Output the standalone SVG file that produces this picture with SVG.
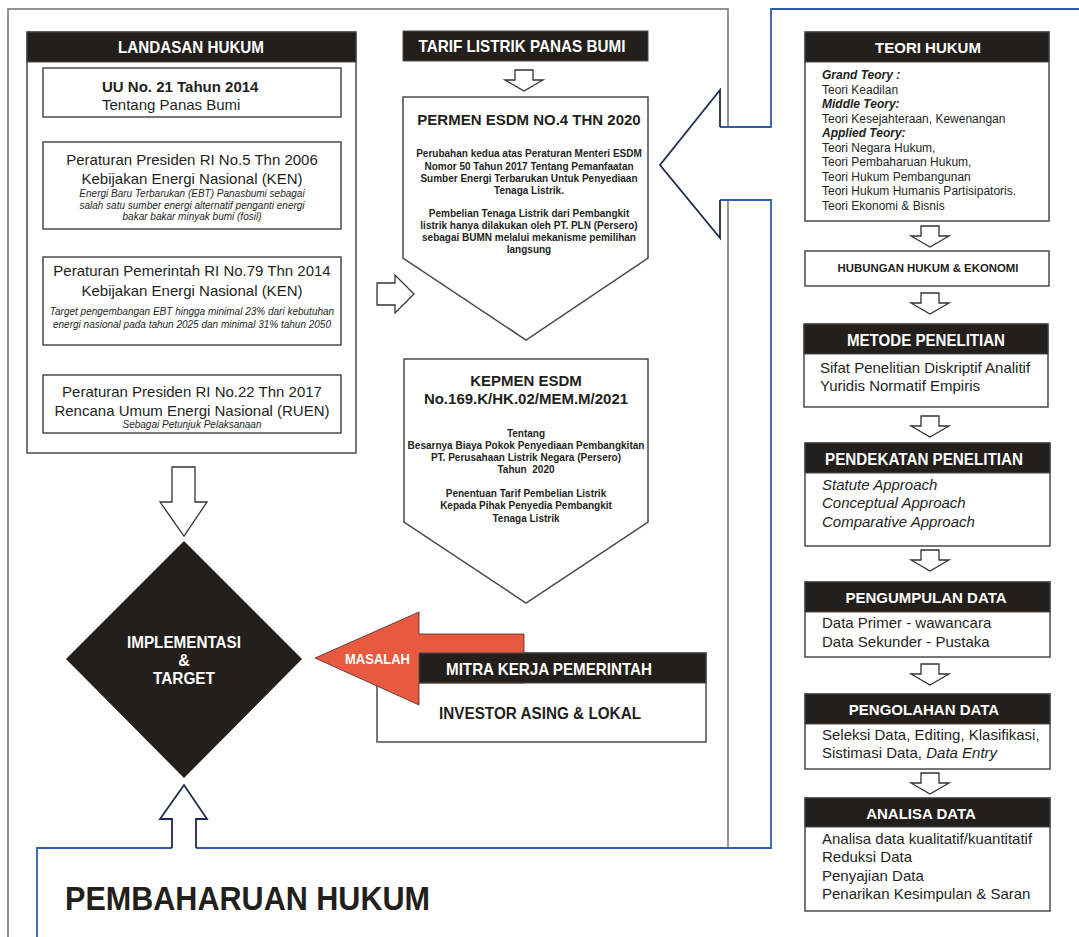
<svg xmlns="http://www.w3.org/2000/svg" width="1079" height="937" viewBox="0 0 1079 937">
<style>
.t{font-family:"Liberation Sans",Arial,sans-serif;fill:#231f1c}
.w{fill:#fff}
.b{font-weight:bold}
.i{font-style:italic}
.c{text-anchor:middle}
.s15{font-size:15px}
.s16{font-size:16.5px}
.s12{font-size:12px}
.s10{font-size:10px}
.bx{fill:#fff;stroke:#4a4a4a;stroke-width:1.5}
.hd{fill:#231f1c;stroke:#4a4a4a;stroke-width:1}
.ar{fill:#fff;stroke:#333;stroke-width:1.3}
.gray{fill:none;stroke:#707070;stroke-width:1.5}
.blue{fill:none;stroke:#2f5daa;stroke-width:1.8}
.navy{fill:none;stroke:#1c2a4c;stroke-width:1.8}
</style>
<defs>
<path id="dn" d="M-9,0 H9 V10 H19 L0,21 L-19,10 H-9 Z" class="ar"/>
</defs>
<rect width="1079" height="937" fill="#fff"/>

<g id="frame">
<polyline class="gray" points="8,937 8,9 728,9 728,848"/>
</g>

<g id="connectors">
<polygon points="660,165 720,90 720,127 771,127 771,200 720,200 720,238" fill="#fff"/>
<polyline class="blue" points="37,937 37,848 172,848"/>
<polyline class="blue" points="196,848 771,848 771,200 720,200"/>
<polyline class="blue" points="720,127 771,127 771,9 1079,9"/>
<polyline class="navy" points="172,848 172,819 160,819 184,785 207,819 196,819 196,848"/>
<polyline class="navy" points="720,200 720,238 660,165 720,90 720,127"/>
<use href="#dn" x="190" y="233"/>
<use href="#dn" x="190" y="350"/>
<use href="#dn" x="524" y="70"/>
<use href="#dn" x="930" y="226"/>
<use href="#dn" x="930" y="293"/>
<use href="#dn" x="930" y="416"/>
<use href="#dn" x="930" y="550"/>
<use href="#dn" x="930" y="664"/>
<use href="#dn" x="930" y="773"/>
<polygon class="ar" points="172,467 195,467 195,502 207,502 184,536 160,502 172,502"/>
<polygon class="ar" points="377,283 395,283 395,275 414,294 395,313 395,305 377,305"/>
</g>

<g id="landasan-hukum">
<rect class="bx" x="27" y="32" width="329" height="421"/>
<rect class="hd" x="27" y="32" width="329" height="30"/>
<text class="t w b s16 c" x="191" y="53" textLength="146" lengthAdjust="spacingAndGlyphs">LANDASAN HUKUM</text>
</g>

<g id="uu-21-2014">
<rect class="bx" x="43" y="68" width="298" height="49"/>
<text class="t b s15" x="102" y="92">UU No. 21 Tahun 2014</text>
<text class="t s15" x="102" y="110">Tentang Panas Bumi</text>
</g>

<g id="perpres-5-2006">
<rect class="bx" x="43" y="142" width="298" height="87"/>
<text class="t s15 c" x="192" y="165">Peraturan Presiden RI No.5 Thn 2006</text>
<text class="t s15 c" x="192" y="184">Kebijakan Energi Nasional (KEN)</text>
<text class="t s10 i c" x="192" y="197">Energi Baru Terbarukan (EBT) Panasbumi sebagai</text>
<text class="t s10 i c" x="192" y="208.5">salah satu sumber energi alternatif penganti energi</text>
<text class="t s10 i c" x="192" y="220">bakar bakar minyak bumi (fosil)</text>
</g>

<g id="pp-79-2014">
<rect class="bx" x="43" y="257" width="298" height="88"/>
<text class="t s15 c" x="192" y="276">Peraturan Pemerintah RI No.79 Thn 2014</text>
<text class="t s15 c" x="192" y="296">Kebijakan Energi Nasional (KEN)</text>
<text class="t s10 i c" x="192" y="315">Target pengembangan EBT hingga minimal 23% dari kebutuhan</text>
<text class="t s10 i c" x="192" y="328">energi nasional pada tahun 2025 dan minimal 31% tahun 2050</text>
</g>

<g id="perpres-22-2017">
<rect class="bx" x="43" y="375" width="298" height="58"/>
<text class="t s15 c" x="192" y="397">Peraturan Presiden RI No.22 Thn 2017</text>
<text class="t s15 c" x="192" y="416">Rencana Umum Energi Nasional (RUEN)</text>
<text class="t s10 i c" x="192" y="428">Sebagai Petunjuk Pelaksanaan</text>
</g>

<g id="tarif-listrik">
<rect class="hd" x="403" y="31" width="245" height="30"/>
<text class="t w b s16 c" x="522" y="52" textLength="207" lengthAdjust="spacingAndGlyphs">TARIF LISTRIK PANAS BUMI</text>
</g>

<g id="permen-esdm">
<polygon class="bx" points="403,97 648,97 648,258 526,340 403,258"/>
<text class="t b s15 c" x="529" y="125">PERMEN ESDM NO.4 THN 2020</text>
<text class="t b s10 c" x="529" y="157">Perubahan kedua atas Peraturan Menteri ESDM</text>
<text class="t b s10 c" x="529" y="169.5">Nomor 50 Tahun 2017 Tentang Pemanfaatan</text>
<text class="t b s10 c" x="529" y="182">Sumber Energi Terbarukan Untuk Penyediaan</text>
<text class="t b s10 c" x="529" y="194">Tenaga Listrik.</text>
<text class="t b s10 c" x="529" y="217">Pembelian Tenaga Listrik dari Pembangkit</text>
<text class="t b s10 c" x="529" y="229">listrik hanya dilakukan oleh PT. PLN (Persero)</text>
<text class="t b s10 c" x="529" y="241">sebagai BUMN melalui mekanisme pemilihan</text>
<text class="t b s10 c" x="529" y="253">langsung</text>
</g>

<g id="kepmen-esdm">
<polygon class="bx" points="404,359 648,359 648,522 526,603 404,522"/>
<text class="t b s15 c" x="526" y="386">KEPMEN ESDM</text>
<text class="t b s15 c" x="526" y="404">No.169.K/HK.02/MEM.M/2021</text>
<text class="t b s10 c" x="526" y="436.5">Tentang</text>
<text class="t b s10 c" x="526" y="448.5">Besarnya Biaya Pokok Penyediaan Pembangkitan</text>
<text class="t b s10 c" x="526" y="461">PT. Perusahaan Listrik Negara (Persero)</text>
<text class="t b s10 c" x="526" y="473" xml:space="preserve">Tahun  2020</text>
<text class="t b s10 c" x="526" y="497">Penentuan Tarif Pembelian Listrik</text>
<text class="t b s10 c" x="526" y="509">Kepada Pihak Penyedia Pembangkit</text>
<text class="t b s10 c" x="526" y="522">Tenaga Listrik</text>
</g>

<g id="implementasi-target">
<polygon points="184,541 302,659 184,778 66,659" fill="#231f1c"/>
<text class="t w b c" style="font-size:16px" x="184" y="648" textLength="114" lengthAdjust="spacingAndGlyphs">IMPLEMENTASI</text>
<text class="t w b c" style="font-size:16px" x="184" y="666">&amp;</text>
<text class="t w b c" style="font-size:16px" x="184" y="684" textLength="62" lengthAdjust="spacingAndGlyphs">TARGET</text>
</g>

<g id="mitra-kerja">
<rect class="bx" x="377" y="653" width="329" height="89"/>
<g id="masalah">
<polygon points="315,658 419,612 419,634 524,634 524,683 419,683 419,705" fill="#e85a40" stroke="#4a2a22" stroke-width="0.8"/>
<text class="t w b c" style="font-size:14px" x="377.5" y="664" textLength="65" lengthAdjust="spacingAndGlyphs">MASALAH</text>
</g>
<rect class="hd" x="419" y="653" width="287" height="30"/>
<text class="t w b s16 c" x="549" y="675" textLength="206" lengthAdjust="spacingAndGlyphs">MITRA KERJA PEMERINTAH</text>
<text class="t b s16" x="439" y="719" textLength="202" lengthAdjust="spacingAndGlyphs">INVESTOR ASING &amp; LOKAL</text>
</g>

<g id="teori-hukum">
<rect class="bx" x="805" y="32" width="244" height="189"/>
<rect class="hd" x="805" y="32" width="244" height="30"/>
<text class="t w b s15 c" x="928" y="53">TEORI HUKUM</text>
<text class="t s12 b i" x="822" y="79">Grand Teory :</text>
<text class="t s12" x="822" y="93.5">Teori Keadilan</text>
<text class="t s12 b i" x="822" y="108">Middle Teory:</text>
<text class="t s12" x="822" y="122.6">Teori Kesejahteraan, Kewenangan</text>
<text class="t s12 b i" x="822" y="137.2">Applied Teory:</text>
<text class="t s12" x="822" y="151.8">Teori Negara Hukum,</text>
<text class="t s12" x="822" y="166.3">Teori Pembaharuan Hukum,</text>
<text class="t s12" x="822" y="180.9">Teori Hukum Pembangunan</text>
<text class="t s12" x="822" y="195.4">Teori Hukum Humanis Partisipatoris.</text>
<text class="t s12" x="822" y="210">Teori Ekonomi &amp; Bisnis</text>
</g>

<g id="hubungan-hukum-ekonomi">
<rect class="bx" x="805" y="251" width="244" height="35"/>
<text class="t b c" style="font-size:11.4px" x="928" y="272">HUBUNGAN HUKUM &amp; EKONOMI</text>
</g>

<g id="metode-penelitian">
<rect class="bx" x="804" y="324" width="244" height="83"/>
<rect class="hd" x="804" y="324" width="244" height="30"/>
<text class="t w b c" style="font-size:16px" x="926" y="345.5" textLength="158" lengthAdjust="spacingAndGlyphs">METODE PENELITIAN</text>
<text class="t s15" x="820" y="373">Sifat Penelitian Diskriptif Analitif</text>
<text class="t s15" x="820" y="391">Yuridis Normatif Empiris</text>
</g>

<g id="pendekatan-penelitian">
<rect class="bx" x="805" y="443" width="245" height="103"/>
<rect class="hd" x="805" y="443" width="245" height="30"/>
<text class="t w b c" style="font-size:16px" x="924" y="465" textLength="198" lengthAdjust="spacingAndGlyphs">PENDEKATAN PENELITIAN</text>
<text class="t s15 i" x="822" y="490">Statute Approach</text>
<text class="t s15 i" x="822" y="508">Conceptual Approach</text>
<text class="t s15 i" x="822" y="527">Comparative Approach</text>
</g>

<g id="pengumpulan-data">
<rect class="bx" x="805" y="582" width="245" height="75"/>
<rect class="hd" x="805" y="582" width="245" height="30"/>
<text class="t w b s15 c" x="926" y="603">PENGUMPULAN DATA</text>
<text class="t s15" x="822" y="628">Data Primer - wawancara</text>
<text class="t s15" x="822" y="647">Data Sekunder - Pustaka</text>
</g>

<g id="pengolahan-data">
<rect class="bx" x="805" y="694" width="245" height="75"/>
<rect class="hd" x="805" y="694" width="245" height="30"/>
<text class="t w b s15 c" x="924" y="715">PENGOLAHAN DATA</text>
<text class="t s15" x="822" y="740">Seleksi Data, Editing, Klasifikasi,</text>
<text class="t s15" x="822" y="758">Sistimasi Data, <tspan class="i">Data Entry</tspan></text>
</g>

<g id="analisa-data">
<rect class="bx" x="805" y="798" width="245" height="113"/>
<rect class="hd" x="805" y="798" width="245" height="29"/>
<text class="t w b s15 c" x="921" y="819">ANALISA DATA</text>
<text class="t s15" x="822" y="844">Analisa data kualitatif/kuantitatif</text>
<text class="t s15" x="822" y="862">Reduksi Data</text>
<text class="t s15" x="822" y="881">Penyajian Data</text>
<text class="t s15" x="822" y="899">Penarikan Kesimpulan &amp; Saran</text>
</g>

<g id="pembaharuan-hukum">
<text class="t b" style="font-size:33.5px" x="65" y="910" textLength="365" lengthAdjust="spacingAndGlyphs">PEMBAHARUAN HUKUM</text>
</g>
</svg>
